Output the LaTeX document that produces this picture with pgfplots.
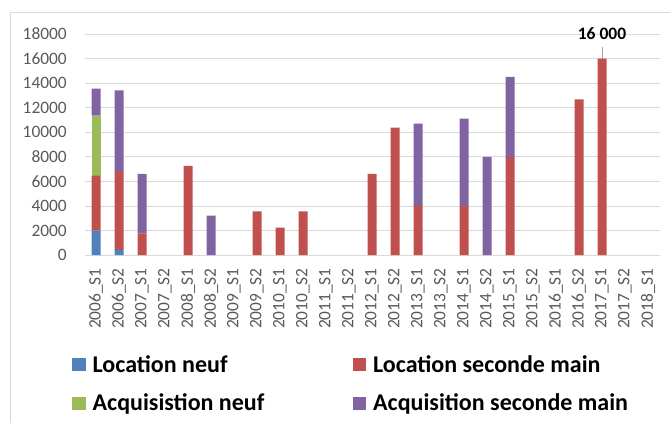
\documentclass[border=0pt]{standalone}
\usepackage{fontspec}
\setmainfont{Carlito}
\usepackage{pgfplots}
\usepackage{pgfplotstable}
\pgfplotsset{compat=1.18}

\definecolor{locneuf}{HTML}{4F81BD}
\definecolor{locsec}{HTML}{C0504D}
\definecolor{acqneuf}{HTML}{9BBB59}
\definecolor{acqsec}{HTML}{8064A2}
\definecolor{gridgray}{HTML}{D9D9D9}
\definecolor{labgray}{HTML}{595959}

% semestre  loc.neuf  loc.2nde  acq.neuf  acq.2nde
\pgfplotstableread{
x  ln    lsm    an    asm
0  1980  4480   4890  2200
1  410   6430   0     6570
2  0     1760   0     4840
3  0     0      0     0
4  0     7250   0     0
5  0     0      0     3200
6  0     0      0     0
7  0     3560   0     0
8  0     2230   0     0
9  0     3560   0     0
10 0     0      0     0
11 0     0      0     0
12 0     6600   0     0
13 0     10370  0     0
14 0     4000   0     6700
15 0     0      0     0
16 0     4000   0     7100
17 0     0      0     8000
18 0     8000   0     6500
19 0     0      0     0
20 0     0      0     0
21 0     12680  0     0
22 0     16000  0     0
23 0     0      0     0
24 0     0      0     0
}\datatable

\pgfplotsset{
  mybar/.style={fill=#1, draw=none,
    legend image code/.code={\fill[#1] (0bp,-6.5bp) rectangle (13.5bp,6.5bp);}},
}

\begin{document}
\begin{tikzpicture}
\path[use as bounding box] (0,0) rectangle (670bp,423bp);
\draw[gridgray, line width=0.75bp] (10bp,0) -- (10bp,411bp) -- (670bp,411bp);
\begin{axis}[
    at={(84.5bp,168bp)}, anchor=south west,
    scale only axis, width=575bp, height=221bp,
    ybar stacked, bar width=9bp,
    xmin=-0.5, xmax=24.5, ymin=0, ymax=18000,
    xtick={0,...,24},
    xticklabels={2006\_S1,2006\_S2,2007\_S1,2007\_S2,2008\_S1,2008\_S2,2009\_S1,2009\_S2,
      2010\_S1,2010\_S2,2011\_S1,2011\_S2,2012\_S1,2012\_S2,2013\_S1,2013\_S2,2014\_S1,
      2014\_S2,2015\_S1,2015\_S2,2016\_S1,2016\_S2,2017\_S1,2017\_S2,2018\_S1},
    ytick={0,2000,...,18000},
    scaled y ticks=false,
    /pgf/number format/assume math mode=true,
    /pgf/number format/1000 sep={},
    ymajorgrids, major grid style={gridgray, line width=0.75bp},
    axis lines*=left,
    y axis line style={draw=none},
    x axis line style={gridgray, line width=0.75bp},
    major tick length=0pt, tick style={draw=none},
    tick label style={font=\fontsize{17.4bp}{20bp}\selectfont, text=labgray, inner sep=0pt},
    xticklabel style={rotate=90, anchor=east},
    xticklabel shift=13bp,
    yticklabel shift=17.5bp,
    clip=false,
    legend columns=2,
    legend cell align=left,
    legend style={at={(-0.02174,-0.4525)}, anchor=north west, draw=none, fill=none,
      inner sep=0pt, font=\bfseries\fontsize{24bp}{28bp}\selectfont,
      nodes={inner xsep=0bp, inner ysep=0bp},
      row sep=20.5bp,
      /tikz/every odd column/.append style={column sep=7bp}},
]
\addplot[mybar=locneuf] table[x=x, y=ln] {\datatable};
\addlegendentry{\makebox[260bp][l]{Location neuf}}
\addplot[mybar=locsec] table[x=x, y=lsm] {\datatable};
\addlegendentry{Location seconde main}
\addplot[mybar=acqneuf] table[x=x, y=an] {\datatable};
\addlegendentry{\makebox[260bp][l]{Acquisistion neuf}}
\addplot[mybar=acqsec] table[x=x, y=asm] {\datatable};
\addlegendentry{Acquisition seconde main}

\draw[gray!70, line width=0.75bp] (axis cs:22,16000) -- ++(0pt,11.5bp)
  node[anchor=base, yshift=7.5bp, inner sep=0pt, text=black,
       font=\bfseries\fontsize{17.5bp}{20bp}\selectfont] {16 000};
\end{axis}
\end{tikzpicture}
\end{document}
